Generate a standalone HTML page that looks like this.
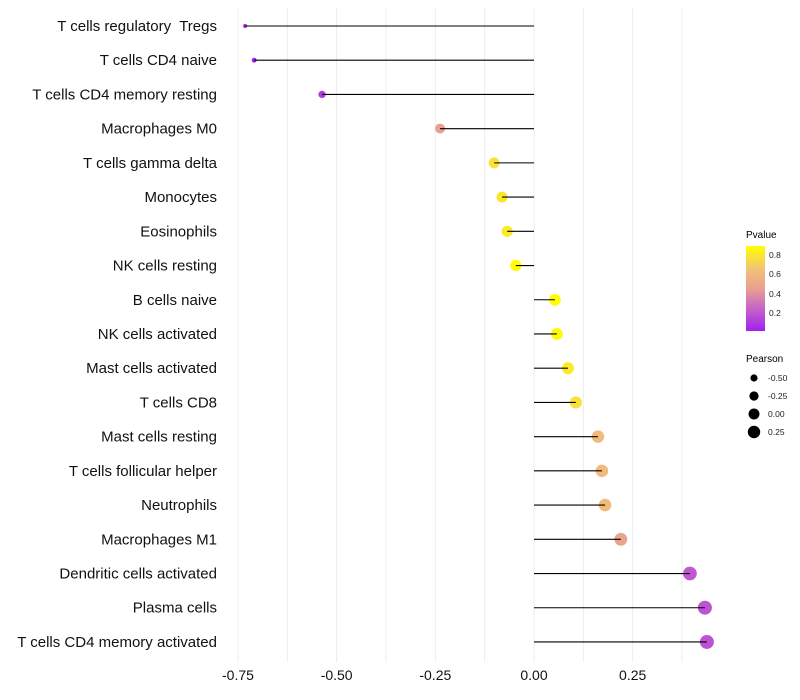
<!DOCTYPE html>
<html><head><meta charset="utf-8"><style>
body{margin:0;background:#fff;font-family:"Liberation Sans",sans-serif}
svg{display:block}
#ylabels text{white-space:pre}
</style></head><body>
<svg id="chart" width="800" height="700">
<g id="grid"></g><g id="dots"></g><g id="marks"></g><g id="ylabels"></g><g id="xlabels"></g>
<g id="legend">
<text x="746" y="238" font-size="10">Pvalue</text>
<defs><linearGradient id="pg" x1="0" y1="1" x2="0" y2="0">
<stop offset="0" stop-color="#a020f0"/><stop offset="0.22" stop-color="#c058d0"/><stop offset="0.5" stop-color="#e8a090"/><stop offset="0.72" stop-color="#f2c078"/><stop offset="1" stop-color="#ffff00"/></linearGradient></defs>
<rect x="746" y="246" width="19" height="85" fill="url(#pg)"/>
<g font-size="8.5" fill="#222">
<text x="769" y="258">0.8</text><text x="769" y="277">0.6</text><text x="769" y="297">0.4</text><text x="769" y="316">0.2</text>
</g>
<text x="746" y="362" font-size="10">Pearson</text>
<g id="sizeleg"></g>
</g>
</svg>
<script>
const cells=["T cells regulatory  Tregs","T cells CD4 naive","T cells CD4 memory resting","Macrophages M0","T cells gamma delta","Monocytes","Eosinophils","NK cells resting","B cells naive","NK cells activated","Mast cells activated","T cells CD8","Mast cells resting","T cells follicular helper","Neutrophils","Macrophages M1","Dendritic cells activated","Plasma cells","T cells CD4 memory activated"];
const pearson=[-0.732,-0.709,-0.537,-0.238,-0.101,-0.081,-0.068,-0.046,0.053,0.058,0.086,0.106,0.162,0.172,0.180,0.220,0.395,0.433,0.438];
const pvalue=[0.02,0.02,0.1,0.45,0.78,0.8,0.82,0.9,0.9,0.88,0.82,0.78,0.62,0.62,0.62,0.47,0.2,0.18,0.18];
const xTicks=[-0.75,-0.5,-0.25,0,0.25];
const xTickLabels=["-0.75","-0.50","-0.25","0.00","0.25"];
const legPearson=[-0.5,-0.25,0,0.25];
const NS="http://www.w3.org/2000/svg";
const x=v=>534+v*394.7;
const y=i=>26+i*34.22;
const r=v=>2+5*Math.pow(Math.max(0,(v+0.73)/1.17),0.6);
const stops=[[0,[160,32,240]],[0.2,[192,88,208]],[0.45,[232,160,144]],[0.65,[242,192,120]],[0.9,[255,255,0]]];
function col(p){p=Math.max(0,Math.min(0.9,p));for(let k=1;k<stops.length;k++){if(p<=stops[k][0]){const a=stops[k-1],b=stops[k];const t=(p-a[0])/(b[0]-a[0]);const c=a[1].map((v,j)=>Math.round(v+(b[1][j]-v)*t));return `rgb(${c})`;}}return 'rgb(255,255,0)';}
function mk(tag,attrs,parent){const e=document.createElementNS(NS,tag);for(const k in attrs)e.setAttribute(k,attrs[k]);document.getElementById(parent).appendChild(e);return e;}
for(let v=-0.75;v<=0.38;v+=0.125){const g=mk('line',{x1:x(v),x2:x(v),y1:8,y2:662,stroke:'#ececec','stroke-width':1},'grid');

}
cells.forEach((c,i)=>{
const d=mk('circle',{cx:x(pearson[i]),cy:y(i),r:r(pearson[i]),fill:col(pvalue[i])},'dots');


const l=mk('line',{x1:x(0),x2:x(pearson[i]),y1:y(i),y2:y(i),stroke:'#000','stroke-width':1.1},'marks');


const t=mk('text',{x:217,y:y(i)+5,'text-anchor':'end','font-size':15,fill:'#111'},'ylabels');
t.textContent=c;


});
xTicks.forEach((v,i)=>{const t=mk('text',{x:x(v),y:680,'text-anchor':'middle','font-size':14,fill:'#111'},'xlabels');
t.textContent=xTickLabels[i];

});
legPearson.forEach((v,i)=>{const cy=378+i*18;
const c=mk('circle',{cx:754,cy:cy,r:r(v)-0.3,fill:'#000'},'sizeleg');


const t=mk('text',{x:768,y:cy+3,'font-size':8.5,fill:'#222'},'sizeleg');
t.textContent=v.toFixed(2);

});
</script>
</body></html>
